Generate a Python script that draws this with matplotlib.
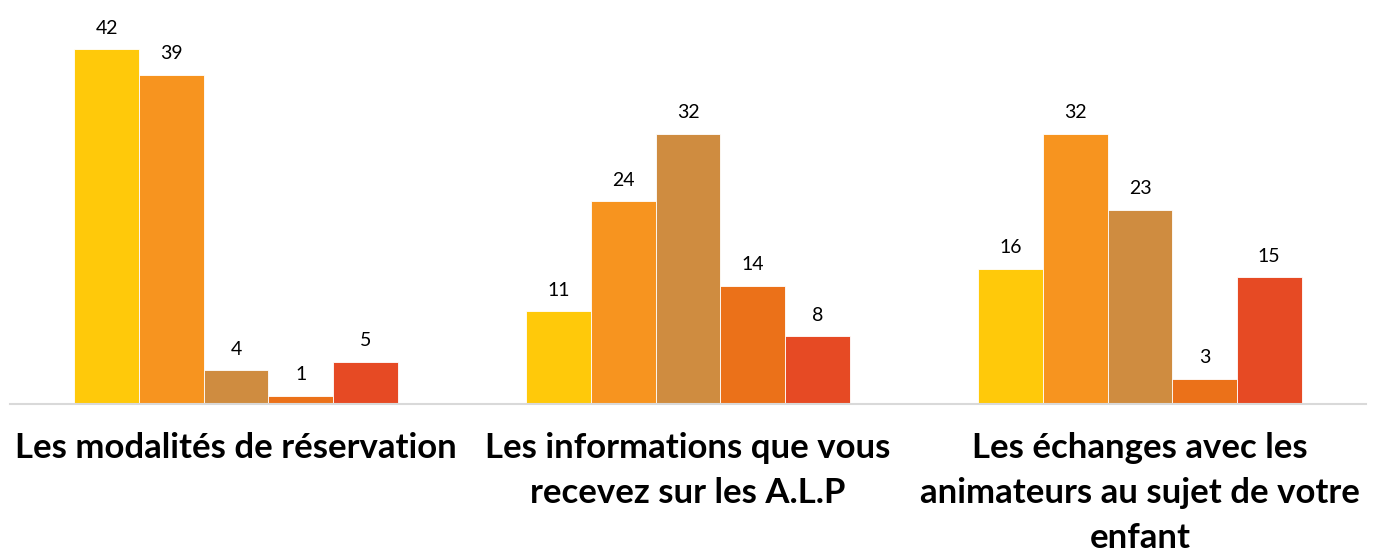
import numpy as np
import matplotlib.pyplot as plt

plt.rcParams['font.family'] = ['Lato', 'DejaVu Sans']

categories = ['Les modalités de réservation',
              'Les informations que vous\nrecevez sur les A.L.P',
              'Les échanges avec les\nanimateurs au sujet de votre\nenfant']
series = [
    [42, 11, 16],
    [39, 24, 32],
    [4, 32, 23],
    [1, 14, 3],
    [5, 8, 15],
]
colors = ['#FFC90A', '#F7941F', '#CF8C40', '#EB7119', '#E64A24']

fig = plt.figure(figsize=(13.79, 5.58), dpi=100)
ax = fig.add_axes([10 / 1379, 1 - 404 / 558, 1356 / 1379, 380 / 558])

x = np.arange(len(categories))
n = len(series)
w = 0.143
for i, vals in enumerate(series):
    pos = x + (i - (n - 1) / 2) * w
    bars = ax.bar(pos, vals, width=w, color=colors[i], edgecolor='white', linewidth=0.6)
    for b, v in zip(bars, vals):
        ax.annotate(str(v), (b.get_x() + b.get_width() / 2, v), xytext=(0, 9),
                    textcoords='offset points', ha='center', va='bottom',
                    fontsize=14, color='black')

ax.set_xlim(-0.5, 2.5)
ax.set_ylim(0, 45)
ax.set_xticks(x)
ax.set_xticklabels(categories, fontsize=25, fontweight='bold', linespacing=1.5, va='top')
ax.tick_params(axis='x', length=0, pad=20)
ax.set_yticks([])
for s in ['top', 'right', 'left']:
    ax.spines[s].set_visible(False)
ax.spines['bottom'].set_color('#D9D9D9')
ax.spines['bottom'].set_linewidth(1.5)

fig.savefig('out.png', dpi=100)
